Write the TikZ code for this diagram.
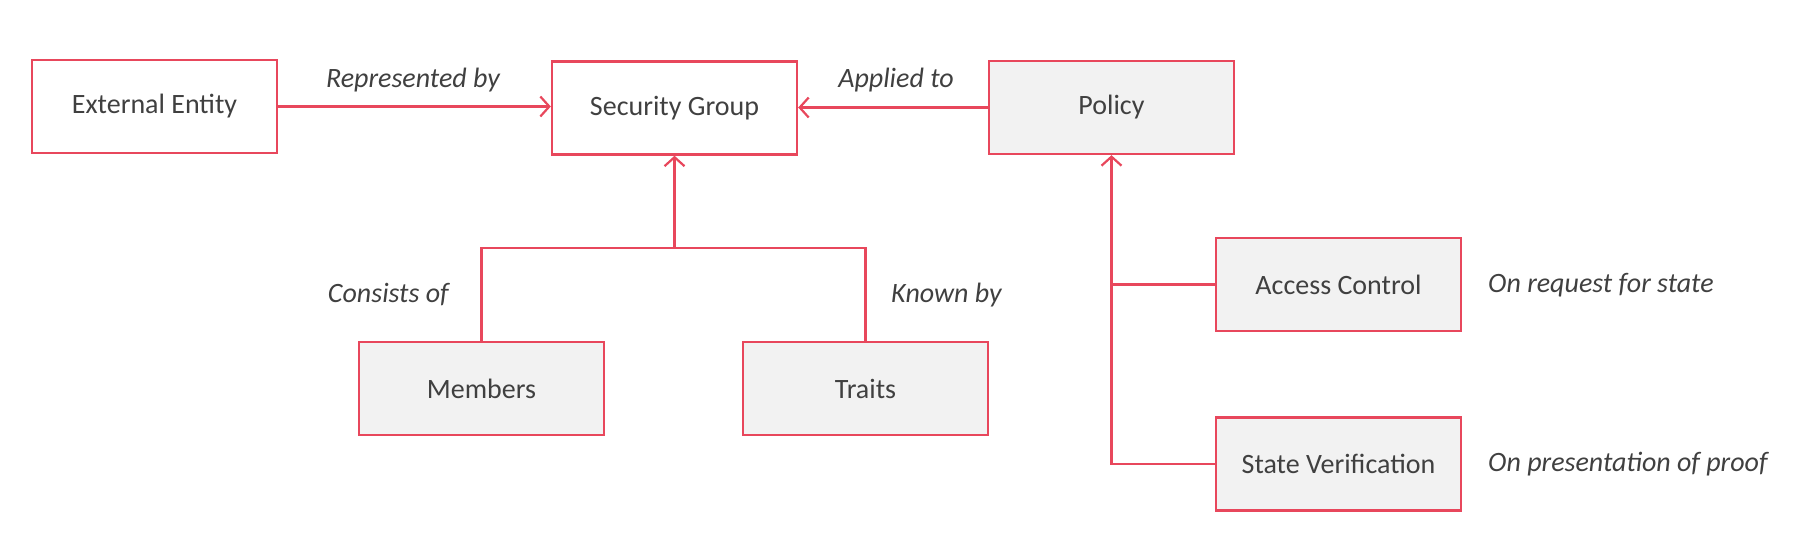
\documentclass[tikz,border=0pt]{standalone}
\usepackage{fontspec}
\setmainfont{Carlito}
\usetikzlibrary{arrows.meta}
\definecolor{edge}{HTML}{E8475C}
\definecolor{boxfill}{HTML}{F2F2F2}
\definecolor{txt}{HTML}{404040}
\begin{document}
\begin{tikzpicture}[x=1pt,y=-1pt,
  box/.style={draw=edge, line width=2.4pt, minimum width=245pt, minimum height=93pt,
    inner sep=0pt, text=txt, font=\fontsize{28}{32}\selectfont},
  graybox/.style={box, fill=boxfill},
  lbl/.style={text=txt, font=\fontsize{28}{32}\selectfont\itshape, inner sep=0pt},
  conn/.style={draw=edge, line width=2.2pt},
  arr/.style={conn, -{Straight Barb[length=9pt,width=20pt,line width=2.2pt]}}]
\useasboundingbox (0,0) rectangle (1795,555);
\node[box] (ext) at (154.5,106.5) {External Entity};
\node[box] (sg) at (674.5,108) {Security Group};
\node[graybox] (pol) at (1111.5,107.5) {Policy};
\node[graybox] (mem) at (481.5,388.5) {Members};
\node[graybox] (tra) at (865.5,388.5) {Traits};
\node[graybox] (ac) at (1338.5,284.5) {Access Control};
\node[graybox] (sv) at (1338.5,464) {State Verification};
\coordinate (j) at (674.5,248);
\draw[arr] (ext.east) -- (ext.east -| sg.west);
\draw[arr] (pol.west) -- (pol.west -| sg.east);
\draw[conn] (mem.north) |- (j) -| (tra.north);
\draw[arr] (j) -- (sg.south);
\draw[arr] (sv.west) -| (pol.south);
\draw[conn] (ac.west) -- (ac.west -| pol.south);
\node[lbl] (l1) at (413,80) {Represented by};
\node[lbl] (l2) at (896,80) {Applied to};
\node[lbl, anchor=east] (l3) at (449,295) {Consists of};
\node[lbl, anchor=west] (l4) at (891,295) {Known by};
\node[lbl, anchor=west] (l5) at (1488,285) {On request for state};
\node[lbl, anchor=west] (l6) at (1488,464) {On presentation of proof};
\end{tikzpicture}
\end{document}
